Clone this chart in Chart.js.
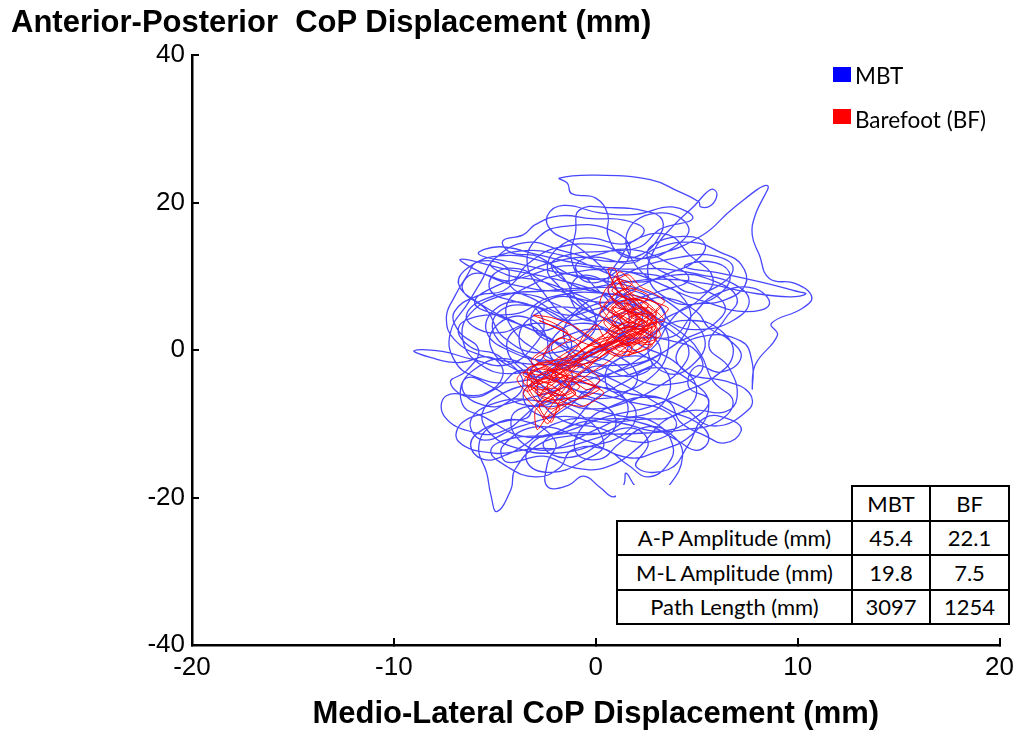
<!DOCTYPE html>
<html>
<head>
<meta charset="utf-8">
<script src="https://cdn.jsdelivr.net/npm/chart.js@4"></script>
<style>
  body { margin: 0; background: #fff; }
  #wrap { position: relative; width: 1028px; height: 738px; }
  #ytitle { position: absolute; left: 11px; top: 4px; font: bold 31px "Liberation Sans", Arial, sans-serif; white-space: pre; }
  .box { position: absolute; left: 833px; width: 18px; height: 15px; }
  .legend { position: absolute; left: 855px; font: 22.5px Lato, "Open Sans", sans-serif; line-height: 28px; }
  #stats { position: absolute; left: 616px; top: 485px; border-collapse: collapse; background: #fff;
           font: 22px Lato, "Open Sans", sans-serif; }
  #stats td { border: 2px solid #000; height: 32.5px; padding: 0; text-align: center; }
  #stats td.blank { border-top: none; border-left: none; }
</style>
</head>
<body>
<div id="wrap">
  <canvas id="chart" width="1028" height="738"></canvas>
  <div id="ytitle">Anterior-Posterior  CoP Displacement (mm)</div>
  <div class="box" style="top:67px;background:#0000ff"></div>
  <div class="legend" style="top:62px">MBT</div>
  <div class="box" style="top:109px;background:#ff0000"></div>
  <div class="legend" style="top:106px">Barefoot (BF)</div>
  <table id="stats"></table>
</div>
<script>
// CoP traces, [medio-lateral, anterior-posterior] in mm
const mbtPath = [
  [0.3,0.5],[-1.2,3.5],[-2.6,7.8],[-3.4,11.8],[-2.8,15.4],[-1.4,16.8],[0.6,16.4],[1.7,13.8],[1.0,10.6],[-0.4,9.2],
  [-1.2,12.2],[-1.0,16.0],[-0.8,19.0],[0.7,19.3],[2.5,18.8],[3.3,17.6],[3.1,15.2],[2.3,13.0],[1.3,12.8],[0.6,15.6],
  [0.6,18.3],[0.0,20.6],[-1.2,21.2],[-1.4,22.6],[-1.8,23.3],[0.0,23.7],[2.7,23.1],[4.1,21.5],[5.1,20.1],[5.2,19.4],
  [5.7,19.6],[6.0,21.0],[5.8,21.8],[5.5,21.4],[4.9,19.6],[3.9,17.0],[2.9,13.6],[2.6,10.0],[3.4,7.2],[4.8,6.2],
  [6.3,8.0],[6.6,10.6],[5.6,12.0],[4.4,11.3],[6.2,10.4],[8.2,9.2],[9.9,8.0],[10.4,7.6],[9.6,7.2],[7.6,7.8],
  [5.5,9.0],[3.2,9.6],[1.0,9.0],[-1.5,8.0],[-4.0,8.8],[-5.6,10.4],[-6.7,12.3],[-4.5,11.0],[-2.0,9.6],[0.2,7.8],
  [1.6,5.0],[1.2,2.0],[-0.5,-0.4],[-2.4,-1.4],[-4.2,-0.2],[-5.4,2.4],[-5.0,5.5],[-3.6,6.4],[-2.6,4.0],[-3.0,0.8],
  [-4.4,-2.0],[-6.2,-1.2],[-7.6,-0.2],[-9.0,-0.1],[-8.2,-1.0],[-6.8,-1.7],[-5.2,-1.0],[-4.6,-3.4],[-5.6,-6.0],[-7.4,-6.2],
  [-7.5,-9.0],[-6.0,-11.2],[-4.6,-11.0],[-3.4,-8.6],[-2.2,-5.4],[-0.8,-3.6],[0.8,-5.0],[1.6,-8.2],[0.6,-11.0],[-1.2,-11.6],
  [-2.8,-12.8],[-4.0,-16.2],[-4.2,-18.9],[-4.9,-21.9],[-5.2,-19.6],[-5.4,-16.7],[-5.8,-13.2],[-5.2,-10.4],[-3.6,-9.6],[-2.0,-12.4],
  [-2.4,-15.4],[-2.4,-18.5],[-1.4,-18.4],[-0.6,-17.1],[0.2,-18.6],[0.9,-19.9],[1.4,-18.2],[1.5,-16.7],[2.0,-18.6],[2.8,-19.9],
  [3.6,-18.5],[4.3,-14.4],[3.8,-11.6],[2.6,-10.4],[1.2,-12.6],[0.2,-14.8],[-1.0,-13.8],[-0.6,-10.2],[0.8,-7.6],[2.6,-6.4],
  [4.2,-7.6],[5.8,-10.3],[7.6,-8.0],[7.6,-5.8],[6.4,-4.2],[4.6,-3.2],[4.0,-0.6],[5.2,1.8],[7.2,1.2],[7.75,-1.7],
  [7.75,-5.3],[7.9,-2.0],[9.0,2.0],[8.7,3.6],[10.2,5.6],[10.7,7.2],[9.9,9.0],[8.6,9.7],[8.1,12.9],[7.75,15.6],
  [7.9,18.3],[8.5,22.3],[6.8,19.2],[5.3,15.6],[3.0,12.9],[0.8,12.0],[-1.6,13.4],[-3.4,14.6],[-5.0,12.4],[-5.7,9.2],
  [-6.3,6.5],[-7.2,2.4],[-7.0,-1.4],[-6.0,-3.6],[-4.2,-4.4],[-2.2,-2.6],[-1.2,0.6],[-2.0,3.2],[-3.8,3.0],[-4.4,0.2],
  [-3.4,-3.2],[-1.6,-6.4],[0.4,-8.4],[2.4,-8.8],[3.6,-6.0],[3.4,-2.6],[2.0,-0.8],[0.6,-2.4],[0.8,-5.6],[2.6,-4.0],
  [3.6,0.4],[3.0,4.4],[1.2,6.4],[-0.8,5.2],[-1.6,2.0],[-0.6,-1.2],[1.4,-2.0],[3.4,-0.2],[4.6,3.2],[4.4,6.8],
  [3.0,9.2],[1.0,10.8],[-1.4,10.4],[-3.2,8.8],[-4.4,6.2],[-4.0,2.4],[-2.6,-0.6],[-1.2,-3.0],[-1.8,-6.6],[-3.6,-7.4],
  [-5.0,-5.2],[-6.4,-3.8],[-6.6,-7.4],[-5.6,-9.0],[-3.4,-11.8],[-1.4,-10.4],[-0.2,-7.0],[1.4,-4.4],[3.0,-2.4],[4.8,-4.4],
  [5.6,-7.4],[4.8,-11.4],[3.0,-13.8],[1.6,-14.6],[-0.4,-12.4],[-2.8,-10.4],[-4.6,-13.0],[-4.4,-15.2],[-2.6,-14.4],[-1.0,-16.0],
  [0.6,-15.8],[2.2,-13.0],[3.4,-9.6],[4.8,-8.2],[6.4,-8.4],[7.0,-6.4],[6.6,-2.4],[5.6,0.6],[6.4,4.2],[7.0,7.0],
  [5.8,9.4],[4.0,10.2],[2.0,8.4],[0.4,5.6],[-0.4,2.4],[-2.0,1.0],[-3.2,3.6],[-2.6,6.4],[-1.0,7.0],[0.0,4.2],
  [-0.6,1.2],[-2.8,-0.4],[-4.6,1.8],[-5.4,5.4],[-6.6,8.2],[-6.0,10.4],[-4.2,9.4],[-3.4,11.6],[-2.0,13.8],[0.2,14.2],
  [2.2,12.4],[3.8,13.8],[4.6,16.6],[3.2,18.6],[1.6,16.2],[2.0,11.4],[3.8,8.2],[5.6,6.4],[7.4,5.2],[8.6,6.2],
  [7.8,8.4],[6.0,7.6],[4.8,4.8],[3.8,1.8],[2.4,2.6],[2.2,5.6],[0.6,7.6],[-2.2,7.2],[-3.8,5.0],[-5.8,4.6],
  [-6.8,3.0],[-6.2,0.4],[-4.8,-0.8],[-3.6,-4.6],[-4.8,-7.8],[-6.6,-9.8],[-6.8,-12.4],[-5.0,-14.0],[-3.2,-13.4],[-1.6,-13.2],
  [0.2,-11.8],[1.8,-10.6],[2.6,-12.6],[2.0,-15.8],[3.6,-16.2],[4.6,-12.8],[5.4,-9.2],[6.8,-9.6],[7.2,-11.0],[6.4,-12.6],
  [5.4,-11.6],[4.2,-9.8],[3.6,-7.0],[1.8,-6.0],[-0.2,-5.2],[-1.4,-7.8],[-2.6,-9.0],[-3.6,-6.2],[-2.6,-3.6],[-0.8,-1.6],
  [1.0,1.4],[2.0,4.4],[0.8,8.6],[-0.8,10.0],[-1.2,6.6],[0.2,3.2],[1.8,0.2],[2.8,-2.0],[1.6,-3.6],[0.0,-2.2],
  [-1.6,-4.4],[-3.0,-2.2],[-3.8,1.6],[-3.0,4.8],[-1.4,5.8],[0.6,4.0],[1.6,0.8],[0.8,-1.8],[-0.8,-3.0],[-2.2,-1.0],
  [-2.0,2.0],[-0.8,3.6],[0.8,2.6],[2.4,0.4],[4.0,-1.8],[5.0,-5.6],[4.0,-8.8],[2.2,-9.4],[0.4,-9.8],[-1.6,-9.0],
  [-3.8,-10.4],[-5.6,-12.2],[-6.2,-9.6],[-5.0,-7.2],[-3.2,-6.8],[-1.0,-8.4],[0.4,-12.6],[-0.6,-15.0],[-2.2,-16.6],[-3.4,-15.2],
  [-3.0,-12.2],[-1.4,-11.0],[0.6,-9.0],[2.8,-7.6],[4.4,-5.6],[5.8,-3.8],[6.8,-0.6],[6.2,2.6],[4.8,4.0],[3.2,2.8],
  [2.6,-0.4],[3.6,-3.2],[4.8,-2.0],[5.4,1.4],[4.2,5.2],[2.6,7.8],[0.4,9.4],[-2.0,10.6],[-4.0,11.8],[-5.8,13.0],
  [-4.8,14.0],[-3.0,13.0],[-1.0,11.8],[1.2,11.0],[3.4,11.0],[5.2,10.2],[6.8,9.0],[7.6,6.6],[6.8,4.0],[5.2,2.8],
  [3.8,3.6],[3.0,6.4],[1.6,8.2],[-0.6,8.4],[-2.6,8.0],[-4.6,7.4],[-6.2,5.0],[-6.6,1.6],[-5.8,-1.8],[-4.2,-3.2],
  [-2.8,-1.6],[-2.4,1.4],[-3.4,4.4],[-4.8,3.6],[-5.2,0.4],[-4.0,-2.6],[-2.2,-4.0],[-0.4,-4.6],[1.2,-6.2],[2.0,-8.6],
  [1.4,-11.4],[-0.2,-13.0],[-2.0,-14.0],[-3.8,-13.4],[-5.2,-11.4],[-5.6,-8.4],[-4.4,-5.6],[-2.8,-5.0],[-1.6,-7.0],[-0.2,-8.0],
  [1.6,-7.0],[3.2,-4.8],[4.2,-2.6],[4.6,0.2],[3.8,2.4],[2.6,4.6],[1.4,7.4],[-0.2,6.8],[-1.4,4.4],[-2.6,2.6],
  [-4.0,3.8],[-5.8,6.4],[-6.8,9.0],[-6.2,11.4],[-4.6,12.8],[-2.6,12.0],[-1.0,10.0],[0.8,9.8],[2.6,11.6],[4.2,12.6],
  [5.8,12.8],[6.8,11.2],[6.0,8.6],[4.6,7.8],[3.4,9.8],[2.2,10.4],[0.2,11.0],[-1.6,11.4],[-3.4,10.0],[-5.0,8.6],
  [-6.0,6.4],[-4.8,4.6],[-3.2,2.8],[-1.6,0.2],[-0.4,-2.8],[0.8,-3.6],[2.4,-2.6],[3.2,-0.8],[2.8,1.8],[1.0,3.8],
  [-0.6,5.6],[-1.8,8.6],[-2.4,11.0],[-1.8,14.0],[-0.4,15.2],[1.4,14.4],[2.4,16.2],[1.4,17.6],[-0.2,17.8],[-1.8,18.2],
  [-3.0,17.0],[-3.6,15.6],[-4.6,14.8],[-4.2,13.2],[-2.8,12.6],[-1.6,9.8],[-0.8,6.4],[0.4,4.4],[2.2,3.2],[3.8,4.8],
  [5.2,7.0],[5.8,9.8],[4.6,13.0],[3.6,15.6],[2.0,15.0],[1.2,12.4],[0.6,9.0],[1.2,5.8],[2.8,4.6],[4.4,2.0],
  [5.2,-0.6],[5.8,-4.2],[6.8,-7.0],[6.0,-9.8],[4.4,-10.8],[2.8,-11.2],[1.0,-11.4],[-0.8,-11.2],[-2.4,-11.6],[-4.2,-12.0],
  [-5.2,-13.6],[-4.4,-15.8],[-3.0,-17.2],[-1.8,-16.0],[-1.2,-13.6],[0.4,-13.4],[1.6,-15.6],[2.6,-17.2],[3.6,-15.4],[3.8,-12.8],
  [3.0,-10.0],[1.6,-9.2],[0.0,-10.8],[-1.2,-12.4],[-2.6,-13.6],[-3.8,-12.2],[-4.2,-9.4],[-3.6,-7.8],[-2.0,-7.6],[-0.6,-6.2],
  [0.4,-3.8],[1.8,-1.8],[3.0,0.8],[3.6,3.6],[4.6,6.0],[6.2,6.6],[7.4,8.8],[7.2,11.6],[6.2,13.2],[4.8,14.6],
  [3.0,13.8],[1.8,11.8],[0.0,12.6],[-2.0,12.0],[-3.6,10.2],[-4.6,8.0],[-5.8,7.4],[-7.0,5.2],[-6.8,2.6],[-5.8,0.0],
  [-6.4,-2.8],[-7.2,-4.4],[-6.2,-6.4],[-4.8,-5.0],[-3.8,-2.8],[-2.2,-3.6],[-1.0,-5.4],[0.2,-6.6],[1.8,-5.2],[2.0,-3.0],
  [1.0,-0.6],[-0.4,1.6],[-1.4,3.8],[-2.6,5.6],[-4.0,6.6],[-5.2,8.0],[-5.0,10.4],[-3.8,11.0],[-2.8,9.6],[-1.6,7.8],
  [-0.2,6.6],[1.6,6.8],[3.2,8.0],[4.6,9.6],[3.6,11.8],[1.8,13.6],[0.2,13.0],[-1.0,11.4],[-0.2,9.0],[0.6,6.0],
  [-1.4,4.0],[-3.2,6.0],[-4.8,5.2],[-5.0,2.0],[-3.6,-0.6],[-1.8,-1.8],[0.0,-0.2],[1.4,2.6],[0.6,5.4],[-1.0,7.6],
  [-2.8,9.4],[-4.4,10.2],[-5.2,11.8],[-3.8,13.4],[-1.6,12.8],[0.4,10.6],[2.0,9.2],[3.8,10.6],[5.0,12.2],[5.4,14.4],
  [4.4,15.4],[2.8,14.2],[2.6,12.2],[3.6,10.2],[5.2,8.4],[6.4,6.0],[5.8,3.4],[4.2,1.2],[2.8,-1.2],[1.2,-2.8],
  [-0.6,-4.2],[-2.4,-5.8],[-4.0,-7.0],[-5.4,-7.6],[-6.6,-5.4],[-6.0,-2.6],[-4.4,-1.2],[-3.0,-3.6],[-2.8,-6.6],[-1.6,-9.6],
  [0.2,-10.6],[1.8,-12.4],[3.2,-12.0],[4.0,-10.2],[3.4,-8.2],[2.0,-7.2],[0.2,-6.0],[-1.2,-5.2],[-2.0,-3.0],[-1.0,-1.2],
  [0.6,-1.4],[2.2,-4.2],[3.8,-4.6],[5.2,-3.0],[5.0,-0.2],[3.8,1.2],[2.2,1.6],[0.8,0.2],[-0.8,-0.2],[-2.4,1.8],
  [-3.4,3.4],[-4.6,2.4],[-5.8,2.8],[-6.4,4.8],[-5.4,7.0],[-3.6,7.6],[-1.8,6.0],[-0.4,4.0],[1.0,4.6],[2.4,6.6],
  [3.6,7.0],[5.0,5.2],[5.6,3.0],[6.6,1.4],[7.2,-1.0],[6.2,-3.0],[5.0,-2.2],[4.6,-5.0],[5.6,-6.8],[4.8,-9.4],
  [3.2,-11.0],[1.4,-10.0],[-0.4,-9.2],[-2.2,-10.2],[-3.4,-12.6],[-4.4,-14.2],[-5.6,-14.8],[-6.2,-12.8],[-5.6,-10.8],[-4.4,-9.6],
  [-3.4,-9.2],[-3.0,-7.6],[-1.4,-6.6],[0.2,-7.2],[1.0,-9.6],[0.4,-12.2],[-1.4,-14.6],[-2.6,-13.0],[-1.8,-11.0],[0.2,-9.4],
  [2.4,-10.0],[4.0,-12.2],[5.0,-13.6],[5.6,-12.0],[5.0,-9.8],[3.8,-8.4],[2.0,-5.6],[0.2,-3.2],[-1.4,-1.6],[-2.2,0.4],
  [-1.2,2.2],[0.4,2.8],[1.8,1.6],[3.0,2.6],[3.4,5.2],[2.2,7.2],[0.2,7.8],[-1.4,9.2],[-2.2,11.6],[-1.2,13.0],
  [0.6,13.4],[2.2,14.0],[3.2,16.4],[4.8,17.8],[3.8,19.4],[2.0,18.4],[0.2,18.6],[-1.6,19.6],[-2.4,18.2],[-2.2,16.2],
  [-1.2,14.6],[0.0,12.0],[0.8,9.6],[1.0,7.0],[-0.2,5.4],[-1.6,4.8],[-3.0,6.8],[-4.2,8.6],[-4.4,11.2],[-5.8,12.0],
  [-6.4,10.0],[-7.0,7.2],[-7.4,4.4],[-7.0,1.4],[-5.6,-0.8],[-3.6,-1.8],[-2.2,-2.0],[-0.8,-2.0],[0.6,-0.6],[0.2,0.8]
];

const bfPath = [
  [0.4,0.6],[1.2,2.4],[0.8,4.6],[1.6,6.2],[1.0,8.4],[0.6,11.0],[0.95,11.0],[1.3,8.6],[2.0,6.8],[2.6,4.4],
  [2.2,2.2],[1.4,0.8],[0.6,2.6],[1.8,3.8],[2.8,2.4],[3.0,4.2],[2.2,5.6],[1.2,4.4],[0.4,2.0],[-0.4,0.4],
  [-1.2,-1.2],[-2.0,-2.6],[-2.8,-3.4],[-3.6,-3.0],[-3.9,-4.0],[-3.4,-5.6],[-2.6,-4.4],[-1.8,-5.6],[-2.4,-7.0],[-3.0,-8.2],
  [-2.9,-10.8],[-2.4,-9.0],[-1.6,-7.4],[-0.6,-7.6],[0.4,-5.8],[-0.4,-4.6],[-1.4,-3.4],[-2.2,-4.8],[-2.8,-6.2],[-2.0,-3.6],
  [-1.0,-2.0],[-0.2,-0.6],[0.8,0.4],[1.8,1.6],[2.4,3.6],[1.6,5.4],[0.8,6.8],[0.2,5.0],[0.9,3.2],[2.0,2.8],
  [2.8,3.6],[3.6,5.6],[2.8,6.6],[1.8,7.6],[1.2,9.6],[0.6,8.0],[1.4,5.6],[2.2,4.0],[1.4,1.6],[0.2,0.0],
  [-0.8,-1.4],[-1.8,-2.0],[-2.6,-1.0],[-2.2,0.8],[-1.4,2.4],[-2.2,3.8],[-3.1,4.7],[-2.2,4.4],[-1.2,3.4],[-0.4,2.0],
  [0.2,0.8],[-0.6,-0.8],[-1.6,-3.0],[-2.8,-4.6],[-3.4,-3.8],[-2.6,-2.4],[-1.6,-4.2],[-1.0,-6.0],[-2.0,-6.8],[-3.0,-5.6],
  [-2.4,-3.2],[-1.2,-1.0],[0.0,1.2],[1.0,1.8],[1.8,0.4],[1.6,-0.8],[2.4,0.8],[2.8,2.2],[2.0,3.0],[1.0,2.2],
  [0.4,3.8],[1.2,5.0],[2.2,6.0],[2.6,7.4],[1.6,8.4],[0.8,7.2],[1.2,5.8],[2.0,4.8],[2.6,5.8],[3.0,4.8],
  [2.4,3.0],[1.4,1.2],[0.4,-0.6],[-0.6,-2.6],[-1.4,-4.8],[-0.8,-6.4],[0.0,-5.0],[-0.8,-3.4],[-1.8,-2.6],[-2.6,-3.0],
  [-3.2,-4.6],[-2.6,-6.0],[-1.6,-5.0],[-2.2,-3.4],[-1.4,-1.8],[-0.6,0.2],[0.6,1.4],[1.6,2.6],[2.6,1.6],[2.2,0.2],
  [1.2,-0.2],[0.4,1.8],[0.0,3.4],[-0.6,2.0],[-1.0,0.0],[-1.8,-1.6],[-2.4,-5.2],[-1.8,-8.0],[-2.6,-9.2],[-2.0,-6.8],
  [-1.2,-4.2],[-0.4,-2.4],[0.6,-0.2],[1.6,1.0],[2.8,0.8],[3.0,2.8],[2.4,4.8],[1.4,6.4],[1.8,4.4],[1.0,3.0],
  [0.0,1.4],[-1.0,-0.6],[-2.0,-1.4],[-3.0,-2.0],[-3.4,-4.6],[-2.8,-7.0],[-2.0,-5.6],[-1.2,-3.0],[0.0,-1.0],[0.8,0.8],
  [1.8,2.0],[2.6,3.2],[1.8,5.0],[0.8,5.8],[1.6,3.6],[2.2,1.4],[1.0,0.2],[-0.2,-1.6],[-1.2,-2.4],[-2.0,-4.2],
  [-2.8,-3.0],[-3.2,-1.4],[-2.6,0.0],[-1.8,1.6],[-1.0,1.0],[-0.4,-0.8],[0.4,0.2],[1.4,2.0],[2.2,3.6],[1.6,4.8],
  [2.4,5.8],[3.0,3.8],[2.2,2.0],[2.8,0.6],[1.8,-0.4],[1.2,1.2],[2.0,2.6],[1.4,4.2],[0.6,5.4],[1.2,7.0],
  [2.0,8.2],[1.4,9.4],[0.8,8.0],[1.8,6.6],[2.6,5.0],[3.2,3.2],[2.6,1.6],[1.6,0.6],[0.8,2.0],[1.6,3.2],
  [2.4,2.4],[3.0,1.4],[2.2,-0.2],[1.0,-0.8],[0.2,0.6],[0.8,2.4],[1.8,4.6],[2.8,5.2],[2.0,7.0],[1.0,6.2],
  [0.4,4.2],[-0.2,2.6],[-0.8,0.8],[-1.6,-0.6],[-2.4,-2.0],[-3.2,-3.2],[-2.6,-5.0],[-1.6,-6.2],[-0.8,-5.0],[-1.6,-3.8],
  [-2.6,-4.0],[-3.4,-5.4],[-3.0,-6.8],[-2.2,-8.0],[-1.4,-6.6],[-2.0,-5.2],[-2.8,-5.4],[-3.6,-4.4],[-3.0,-2.6],[-2.0,-3.0],
  [-1.2,-4.0],[-0.4,-5.4],[0.2,-4.0],[-0.6,-2.0],[-1.6,-1.4],[-2.4,-2.8],[-1.8,-4.6],[-1.0,-5.8],[-1.8,-7.2],[-2.6,-6.6],
  [-3.2,-5.0],[-2.4,-3.6],[-1.4,-2.2],[-0.6,-0.6],[0.4,0.8],[1.2,2.8],[2.2,4.2],[2.8,3.0],[2.0,1.2],[1.0,0.6],
  [1.8,1.8],[2.6,2.8],[2.2,4.0],[1.4,5.0],[0.8,3.6],[1.6,2.2],[2.4,1.0],[3.2,2.0],[2.8,3.8],[2.0,5.2],
  [1.4,6.6],[0.8,5.2],[1.6,3.8],[2.4,3.2],[1.8,1.6],[0.6,1.0],[-0.4,-0.2],[-1.2,-2.8],[-2.2,-4.4],[-3.0,-4.0],
  [-3.6,-3.4],[-3.2,-2.2],[-2.2,-1.8],[-1.4,-3.6],[-2.0,-5.8],[-2.8,-7.6],[-2.2,-9.8],[-1.8,-7.0],[-1.0,-4.6],[-0.2,-3.0],
  [0.6,-1.6],[1.4,0.2],[2.2,1.8],[2.8,4.2],[2.2,6.2],[1.6,7.8],[1.0,10.0],[1.4,8.0],[2.0,6.0],[1.2,4.2],
  [1.6,3.0],[2.6,4.6],[3.2,5.8],[2.4,7.0],[1.6,6.0],[2.2,4.4],[2.8,2.6],[2.0,0.8],[1.2,-0.6],[0.4,0.4],
  [1.0,2.6],[2.0,3.4],[1.2,4.8],[0.4,6.0],[1.0,7.6],[1.8,9.0],[1.2,10.6],[0.8,9.0],[1.4,7.2],[2.4,6.6],
  [3.0,5.0],[2.2,3.4],[1.0,1.4],[-0.2,0.0],[-1.0,-1.6],[-2.0,-3.4],[-3.0,-4.2],[-3.6,-5.8],[-2.8,-8.4],[-2.4,-10.0],
  [-2.0,-8.6],[-1.2,-7.0],[-0.4,-6.2],[0.2,-5.2],[-0.8,-4.2],[-1.8,-3.2],[-2.6,-2.0],[-3.4,-2.6],[-3.0,-4.8],[-2.0,-6.2],
  [-1.2,-5.4],[-1.6,-3.6],[-2.4,-2.4],[-3.0,-1.2],[-2.0,0.2],[-1.2,1.8],[-2.0,3.0],[-2.8,4.0],[-1.8,2.8],[-0.8,1.2],
  [0.2,0.4],[1.2,1.6],[2.2,2.6],[3.0,3.4],[2.4,4.6],[1.4,5.6],[1.8,6.8],[2.6,6.2],[2.0,4.0],[1.2,2.8],
  [0.6,4.4],[0.2,6.4],[0.6,8.6],[1.6,10.2],[2.2,8.6],[2.8,7.8],[3.4,6.6],[3.0,5.4],[3.4,4.0],[2.6,3.6]
];

const xRange = [-20, 20];
const yRange = [-40, 40];
const tableHeader = ['', 'MBT', 'BF'];
const tableRows = [
  ['A-P Amplitude (mm)', '45.4', '22.1'],
  ['M-L Amplitude (mm)', '19.8', '7.5'],
  ['Path Length (mm)', '3097', '1254']
];

// stats table
const colW = [233, 76, 77];
const table = document.getElementById('stats');
[tableHeader, ...tableRows].forEach((row, r) => {
  const tr = document.createElement('tr');
  row.forEach((txt, c) => {
    const td = document.createElement('td');
    td.textContent = txt;
    td.style.width = colW[c] + 'px';
    if (r === 0 && c === 0) td.className = 'blank';
    tr.appendChild(td);
  });
  table.appendChild(tr);
});

const tickFont = { family: '"Liberation Sans", Arial, sans-serif', size: 26 };

function axis(range, step, extra) {
  return Object.assign({
    type: 'linear',
    min: range[0],
    max: range[1],
    ticks: { stepSize: step, color: '#000', font: tickFont },
    grid: { drawOnChartArea: false, drawTicks: true, tickLength: -7, lineWidth: 2, color: '#000' },
    border: { display: true, width: 2.5, color: '#000' }
  }, extra);
}

const xAxis = axis(xRange, 10, {
  title: {
    display: true,
    text: 'Medio-Lateral CoP Displacement (mm)',
    color: '#000',
    font: { family: '"Liberation Sans", Arial, sans-serif', size: 31, weight: 'bold' },
    padding: { top: 0, bottom: 5 }
  },
  afterFit: s => { s.height = 93; }
});
xAxis.ticks.padding = 14;

const yAxis = axis(yRange, 20, {
  afterFit: s => { s.width = 192; }
});
yAxis.ticks.padding = 14;

new Chart(document.getElementById('chart'), {
  type: 'scatter',
  data: {
    datasets: [
      {
        label: 'Barefoot (BF)',
        data: bfPath.map(p => ({ x: p[0], y: p[1] })),
        showLine: true,
        borderColor: 'rgba(255,0,0,0.95)',
        borderWidth: 1,
        pointRadius: 0,
        tension: 0.25,
        order: 1
      },
      {
        label: 'MBT',
        data: mbtPath.map(p => ({ x: p[0], y: p[1] })),
        showLine: true,
        borderColor: 'rgba(0,0,255,0.72)',
        borderWidth: 1.3,
        pointRadius: 0,
        tension: 0.45,
        order: 2
      }
    ]
  },
  options: {
    responsive: false,
    animation: false,
    layout: { padding: { top: 55, right: 21, left: 0, bottom: 0 } },
    scales: { x: xAxis, y: yAxis },
    plugins: { legend: { display: false }, tooltip: { enabled: false } }
  }
});
</script>
</body>
</html>
